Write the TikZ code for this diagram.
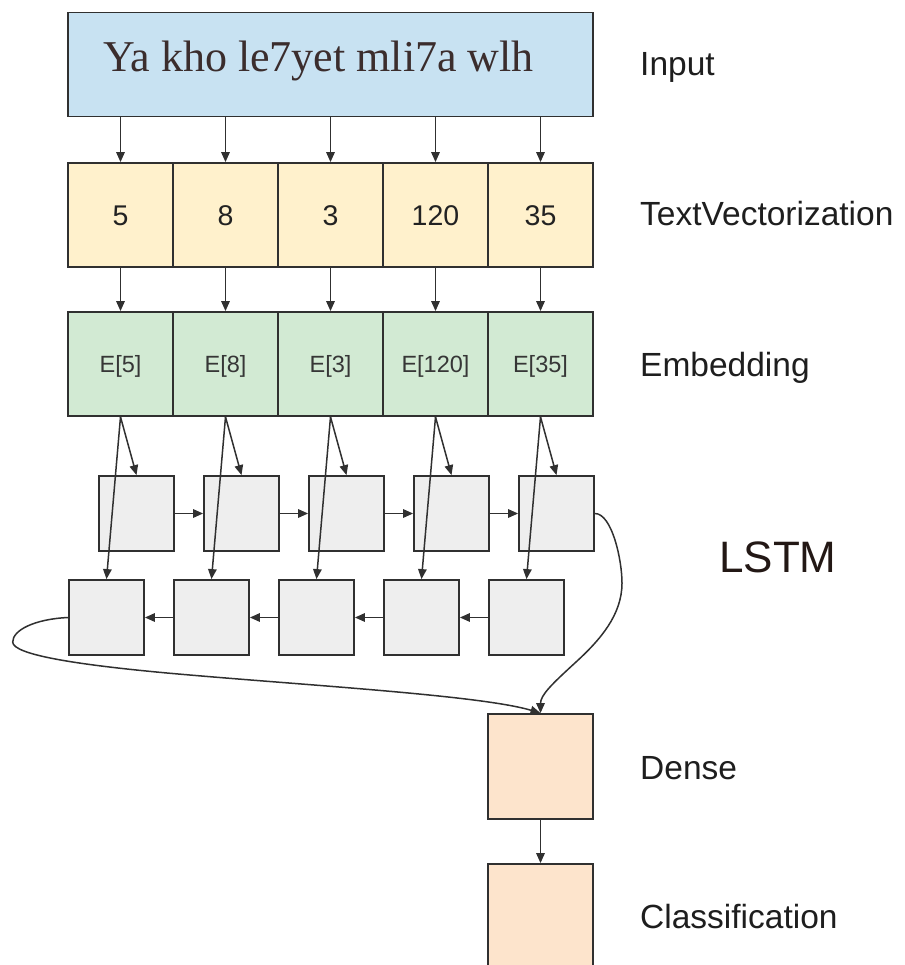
\documentclass[tikz,border=0pt]{standalone}
\usepackage{fontspec}
\setmainfont{Liberation Sans}
\newfontfamily\seriffont{Liberation Serif}
\usetikzlibrary{arrows.meta}

\definecolor{edge}{HTML}{303030}
\definecolor{inputblue}{HTML}{C8E2F2}
\definecolor{tvyellow}{HTML}{FFF1CC}
\definecolor{embgreen}{HTML}{D2EAD3}
\definecolor{lstmgray}{HTML}{EEEEEE}
\definecolor{peach}{HTML}{FDE4CC}
\definecolor{inputtext}{HTML}{3B2D2D}
\definecolor{numtext}{HTML}{222222}
\definecolor{embtext}{HTML}{363636}
\definecolor{labeltext}{HTML}{1E1E1E}
\definecolor{lstmtext}{HTML}{231815}

\begin{document}
\begin{tikzpicture}[x=1pt,y=-1pt,
  frame/.style={draw=edge, line width=1.8pt, inner sep=0pt},
  cell/.style={frame, minimum width=105pt, minimum height=104pt},
  tvcell/.style={cell, fill=tvyellow, text=numtext,
    font=\fontsize{28.5}{30}\selectfont, text height=20.4pt, text depth=0pt},
  embcell/.style={cell, fill=embgreen, text=embtext,
    font=\fontsize{23.5}{26}\selectfont, text height=16.8pt, text depth=0pt},
  rnnbox/.style={frame, fill=lstmgray, minimum size=75pt},
  headbox/.style={frame, fill=peach, minimum size=105pt},
  layer/.style={anchor=base west, inner sep=0pt, text=labeltext,
    font=\fontsize{33.5}{40}\selectfont},
  link/.style={draw=edge, line width=1.5pt, -{Triangle[length=10pt,width=8.5pt]}}]

\useasboundingbox (0,0) rectangle (904,965);
\fill[white] (0,0) rectangle (904,965);

% input sentence
\node[frame, fill=inputblue, minimum width=525pt, minimum height=104pt]
  (input) at (330.5,64.5) {};
\node[anchor=base west, inner sep=0pt, text=inputtext,
  font=\seriffont\fontsize{44}{50}\selectfont] (sentence) at (103,72)
  {Ya kho le7yet mli7a wlh};

% token ids, embeddings and the two LSTM directions
\foreach \v [count=\i] in {5,8,3,120,35} {
  \node[tvcell]  (tv\i) at ({15.5+105*\i},215) {\v};
  \node[embcell] (em\i) at ({15.5+105*\i},364) {E[\v]};
  \node[rnnbox]  (a\i)  at ({31.5+105*\i},513.5) {};
  \node[rnnbox]  (b\i)  at ({1.5+105*\i},617.5) {};
}

% classifier head
\node[headbox] (dense) at (540.5,766.5) {};
\node[headbox] (cls)   at (540.5,916.5) {};

% vertical flow
\foreach \i in {1,...,5} {
  \draw[link] (input.south -| tv\i) -- (tv\i.north);
  \draw[link] (tv\i.south) -- (em\i.north);
  \draw[link] (em\i.south) -- (a\i.north);
  \draw[link] (em\i.south) -- (b\i.north);
}

% recurrent links: forward on top, backward below
\foreach \i [evaluate=\i as \j using int(\i+1)] in {1,...,4} {
  \draw[link] (a\i.east) -- (a\j.west);
  \draw[link] (b\j.west) -- (b\i.east);
}

% final states into the dense layer
\draw[link] (b1.west) .. controls (35,619) and (12.7,630) .. (12.7,642)
  .. controls (12.7,655) and (80,665) .. (167,673)
  .. controls (300,685) and (480,695) .. (dense.north);
\draw[link] (a5.east) .. controls (612,513.5) and (622,560) .. (622,583)
  .. controls (622,615) and (600,640) .. (576,662)
  .. controls (552,684) and (540.5,695) .. (dense.north);
\draw[link] (dense.south) -- (cls.north);

% layer names
\node[layer] (lInput) at (640,76)    {Input};
\node[layer] (lTV)    at (640,226)   {TextVectorization};
\node[layer] (lEmb)   at (640,376)   {Embedding};
\node[anchor=base west, inner sep=0pt, text=lstmtext,
  font=\fontsize{44}{50}\selectfont] (lLSTM) at (719,572.5) {LSTM};
\node[layer] (lDense) at (640,779)   {Dense};
\node[layer] (lCls)   at (640,928.5) {Classification};
\end{tikzpicture}
\end{document}
